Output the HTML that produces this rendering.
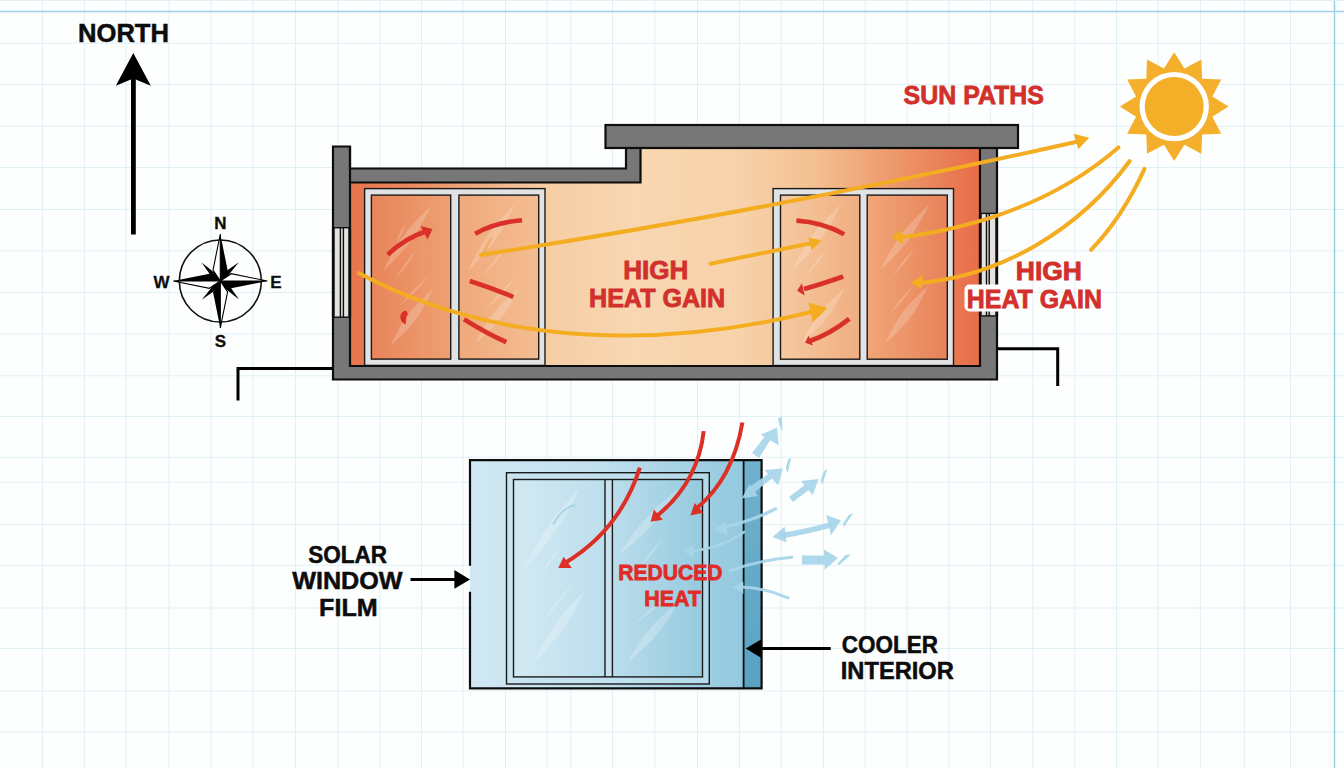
<!DOCTYPE html>
<html><head><meta charset="utf-8">
<style>
html,body{margin:0;padding:0;background:#fdfefe;width:1344px;height:768px;overflow:hidden}
svg{display:block}
text{font-family:"Liberation Sans",sans-serif;font-weight:bold}
</style></head><body>
<svg width="1344" height="768" viewBox="0 0 1344 768">
<defs>
<linearGradient id="gInt" x1="350" y1="0" x2="980" y2="0" gradientUnits="userSpaceOnUse">
<stop offset="0" stop-color="#e8744b"/>
<stop offset="0.1" stop-color="#eb8a5e"/>
<stop offset="0.3" stop-color="#f6cca2"/>
<stop offset="0.45" stop-color="#f8d7b2"/>
<stop offset="0.62" stop-color="#f7d2aa"/>
<stop offset="0.74" stop-color="#f3bf90"/>
<stop offset="0.86" stop-color="#ed9a6c"/>
<stop offset="1" stop-color="#e86c48"/>
</linearGradient>
<linearGradient id="pLL" x1="371" y1="0" x2="451" y2="0" gradientUnits="userSpaceOnUse">
<stop offset="0" stop-color="#e9845a"/><stop offset="1" stop-color="#eea072"/>
</linearGradient>
<linearGradient id="pLR" x1="459" y1="0" x2="539" y2="0" gradientUnits="userSpaceOnUse">
<stop offset="0" stop-color="#f0a97a"/><stop offset="1" stop-color="#f4bd92"/>
</linearGradient>
<linearGradient id="pRL" x1="780" y1="0" x2="860" y2="0" gradientUnits="userSpaceOnUse">
<stop offset="0" stop-color="#f6c9a0"/><stop offset="1" stop-color="#f0ae80"/>
</linearGradient>
<linearGradient id="pRR" x1="867" y1="0" x2="947" y2="0" gradientUnits="userSpaceOnUse">
<stop offset="0" stop-color="#f0a677"/><stop offset="1" stop-color="#e8825a"/>
</linearGradient>
<linearGradient id="gFilm" x1="470" y1="0" x2="745" y2="0" gradientUnits="userSpaceOnUse">
<stop offset="0" stop-color="#d0e8f3"/>
<stop offset="0.45" stop-color="#c2e1ee"/>
<stop offset="1" stop-color="#92c8de"/>
</linearGradient>
<linearGradient id="gPane" x1="513" y1="0" x2="703" y2="0" gradientUnits="userSpaceOnUse">
<stop offset="0" stop-color="#d2e9f3"/>
<stop offset="0.5" stop-color="#bcdeec"/>
<stop offset="1" stop-color="#96cadf"/>
</linearGradient>
<linearGradient id="gStrip" x1="744" y1="460" x2="762" y2="689" gradientUnits="userSpaceOnUse">
<stop offset="0" stop-color="#70b2ce"/>
<stop offset="1" stop-color="#5aa2c2"/>
</linearGradient>
</defs>

<!-- grid -->
<path d="M42.4 0V768M84.4 0V768M126 0V768M169 0V768M211 0V768M253 0V768M295.5 0V768M338 0V768M380 0V768M421.5 0V768M463 0V768M505.5 0V768M547 0V768M570.8 0V768M612.5 0V768M654.8 0V768M697.5 0V768M739.4 0V768M781.2 0V768M823.4 0V768M865.2 0V768M907.2 0V768M948.7 0V768M990.6 0V768M1032.8 0V768M1074.7 0V768M1116.5 0V768M1158.2 0V768M1200.4 0V768M1244.4 0V768M1290.5 0V768M0 43.25H1344M0 84.5H1344M0 126.25H1344M0 167.5H1344M0 209.5H1344M0 250.75H1344M0 292.5H1344M0 334H1344M0 375.75H1344M0 416.5H1344M0 457.25H1344M0 482.25H1344M0 524.5H1344M0 565.25H1344M0 608H1344M0 648.5H1344M0 691H1344M0 731.75H1344" stroke="#e0f0f7" stroke-width="1" fill="none"/>
<path d="M0 11.6H1344" stroke="#a3cfea" stroke-width="1.5" fill="none"/>
<path d="M1334.5 0V768" stroke="#94cfe6" stroke-width="1.4" fill="none"/>
<path d="M0 0.5H1344" stroke="#e3f0f8" stroke-width="1"/>

<!-- NORTH -->
<text x="78.0" y="42.0" font-size="25" fill="#0c0c0c" stroke="#0c0c0c" stroke-width="0.5" textLength="91.0" lengthAdjust="spacingAndGlyphs">NORTH</text>
<path d="M131 234.5V70H135.8V234.5Z" fill="#000"/>
<path d="M133.3 53L150.8 85.8L133.3 78.6L115.8 85.8Z" fill="#000"/>

<!-- compass -->
<g transform="translate(220.3 281)">
<circle r="41" fill="none" stroke="#111" stroke-width="1.6"/>
<path d="M3.94 -8.56L18.50 -18.70L6.67 -3.88L0.00 0.00ZM8.56 3.94L18.70 18.50L3.88 6.67L0.00 0.00ZM-3.94 8.56L-18.50 18.70L-6.67 3.88L0.00 0.00ZM-8.56 -3.94L-18.70 -18.50L-3.88 -6.67L0.00 0.00Z" fill="#000"/>
<path d="M0 -47L-7.3 -10.9L0 0ZM47 0L10.9 -7.3L0 0ZM0 47L7.3 10.9L0 0ZM-47 0L-10.9 7.3L0 0Z" fill="#fff" stroke="#000" stroke-width="1.1" stroke-linejoin="miter"/>
<path d="M0 -47L7.3 -10.9L0 0ZM47 0L10.9 7.3L0 0ZM0 47L-7.3 10.9L0 0ZM-47 0L-10.9 -7.3L0 0Z" fill="#000"/>
</g>
<text x="220.5" y="228.8" font-size="17" fill="#0c0c0c" stroke="#0c0c0c" stroke-width="0.3" text-anchor="middle">N</text>
<text x="220.5" y="346.5" font-size="17" fill="#0c0c0c" stroke="#0c0c0c" stroke-width="0.3" text-anchor="middle">S</text>
<text x="161.5" y="288" font-size="17" fill="#0c0c0c" stroke="#0c0c0c" stroke-width="0.3" text-anchor="middle">W</text>
<text x="276" y="288" font-size="17" fill="#0c0c0c" stroke="#0c0c0c" stroke-width="0.3" text-anchor="middle">E</text>

<!-- BUILDING -->
<path d="M350 182.5H640.5V148H980V366H350Z" fill="url(#gInt)"/>
<g stroke="#1a1a1a" stroke-width="1.4">
<rect x="364.6" y="188.6" width="180.4" height="176.8" fill="#e0e2e4"/>
<rect x="371.4" y="195.1" width="79.3" height="164" fill="url(#pLL)"/>
<rect x="458.9" y="195.1" width="79.8" height="164" fill="url(#pLR)"/>
<rect x="773.1" y="188.6" width="180.4" height="176.9" fill="#e0e2e4"/>
<rect x="780.5" y="195.1" width="79.3" height="164.1" fill="url(#pRL)"/>
<rect x="867.2" y="195.1" width="80.1" height="164.1" fill="url(#pRR)"/>
</g>
<!-- glass streaks -->
<g fill="#fff" fill-opacity="0.2">
<path d="M383.5 270.3L388.5 265.7L393.2 260.9L397.9 256.0L402.5 251.1L407.0 246.1L411.0 240.7L414.9 235.4L418.4 229.6L421.8 223.8L425.0 217.9L428.3 211.9L431.2 205.8L431.2 205.8L426.2 210.4L421.5 215.2L416.8 220.1L412.2 225.0L407.7 230.0L403.7 235.4L399.8 240.7L396.3 246.5L392.9 252.3L389.7 258.2L386.4 264.2L383.5 270.3Z"/>
<path d="M390.4 345.5L395.0 341.5L399.3 337.3L403.6 333.1L407.8 328.8L411.9 324.5L415.5 319.7L419.1 315.0L422.2 309.8L425.1 304.6L428.0 299.3L430.8 294.0L433.4 288.5L433.4 288.5L428.8 292.5L424.5 296.7L420.2 300.9L416.0 305.2L411.9 309.5L408.3 314.3L404.7 319.0L401.6 324.2L398.7 329.4L395.8 334.7L393.0 340.0L390.4 345.5Z"/>
<path d="M467.7 271.3L472.7 266.5L477.4 261.5L482.0 256.4L486.6 251.3L491.0 246.2L495.0 240.6L498.9 235.1L502.3 229.1L505.6 223.1L508.9 217.1L512.0 211.0L514.9 204.7L514.9 204.7L509.9 209.5L505.2 214.5L500.6 219.6L496.0 224.7L491.6 229.8L487.6 235.4L483.7 240.9L480.3 246.9L477.0 252.9L473.7 258.9L470.6 265.0L467.7 271.3Z"/>
<path d="M475.2 343.2L479.9 339.4L484.3 335.5L488.6 331.4L492.9 327.4L497.0 323.2L500.7 318.6L504.4 314.1L507.6 309.1L510.6 304.0L513.6 298.9L516.5 293.8L519.2 288.4L519.2 288.4L514.5 292.2L510.1 296.1L505.8 300.2L501.5 304.2L497.4 308.4L493.7 313.0L490.0 317.5L486.8 322.5L483.8 327.6L480.8 332.7L477.9 337.8L475.2 343.2Z"/>
<path d="M792.1 270.0L797.2 265.3L802.0 260.5L806.8 255.6L811.5 250.6L816.1 245.5L820.1 240.1L824.2 234.7L827.8 228.9L831.2 223.0L834.6 217.0L838.0 211.0L841.0 204.8L841.0 204.8L835.9 209.5L831.1 214.3L826.3 219.2L821.6 224.2L817.0 229.3L812.9 234.7L808.9 240.1L805.3 245.9L801.9 251.8L798.5 257.8L795.1 263.8L792.1 270.0Z"/>
<path d="M801.9 342.8L806.4 339.1L810.7 335.1L814.9 331.1L819.1 327.1L823.1 322.9L826.6 318.4L830.2 313.9L833.2 309.0L836.1 304.0L839.0 298.9L841.8 293.8L844.3 288.5L844.3 288.5L839.8 292.2L835.5 296.2L831.3 300.2L827.1 304.2L823.1 308.4L819.6 312.9L816.0 317.4L813.0 322.3L810.1 327.3L807.2 332.4L804.4 337.5L801.9 342.8Z"/>
<path d="M880.2 270.0L885.3 265.3L890.1 260.5L894.9 255.6L899.6 250.6L904.1 245.5L908.2 240.1L912.3 234.7L915.8 228.9L919.3 223.0L922.7 217.0L926.0 211.0L929.0 204.8L929.0 204.8L923.9 209.5L919.1 214.3L914.3 219.2L909.6 224.2L905.1 229.3L901.0 234.7L896.9 240.1L893.4 245.9L889.9 251.8L886.5 257.8L883.2 263.8L880.2 270.0Z"/>
<path d="M885.6 342.8L890.2 338.9L894.5 334.7L898.7 330.5L902.8 326.3L906.9 322.0L910.4 317.3L913.9 312.5L917.0 307.5L919.9 302.3L922.7 297.1L925.5 291.8L928.0 286.3L928.0 286.3L923.4 290.2L919.1 294.4L914.9 298.6L910.8 302.8L906.7 307.1L903.2 311.8L899.7 316.6L896.6 321.6L893.7 326.8L890.9 332.0L888.1 337.3L885.6 342.8Z"/>
<path d="M394.7 280.0L396.8 277.6L398.9 275.1L400.9 272.6L403.0 270.2L405.0 267.6L406.8 265.0L408.7 262.4L410.5 259.8L412.2 257.0L413.9 254.3L415.6 251.6L417.2 248.8L417.2 248.8L415.1 251.2L413.0 253.7L411.0 256.2L408.9 258.6L406.9 261.2L405.1 263.8L403.2 266.4L401.4 269.0L399.7 271.8L398.0 274.5L396.3 277.2L394.7 280.0Z"/>
<path d="M396.8 242.3L397.8 240.9L398.7 239.5L399.6 238.0L400.5 236.6L401.4 235.1L402.1 233.6L402.8 232.1L403.4 230.5L403.9 228.9L404.5 227.3L405.0 225.7L405.4 224.0L405.4 224.0L404.4 225.4L403.5 226.8L402.6 228.3L401.7 229.7L400.8 231.2L400.1 232.7L399.4 234.2L398.8 235.8L398.3 237.4L397.7 239.0L397.2 240.6L396.8 242.3Z"/>
<path d="M399.0 306.8L401.8 304.3L404.6 301.8L407.3 299.3L410.0 296.7L412.7 294.1L415.3 291.5L417.9 288.8L420.4 286.0L422.8 283.2L425.2 280.3L427.6 277.5L430.0 274.6L430.0 274.6L427.2 277.1L424.4 279.6L421.7 282.1L419.0 284.7L416.3 287.3L413.7 289.9L411.1 292.6L408.6 295.4L406.2 298.2L403.8 301.1L401.4 303.9L399.0 306.8Z"/>
<path d="M481.6 277.7L484.1 275.1L486.6 272.4L489.0 269.8L491.5 267.1L493.9 264.4L496.2 261.5L498.4 258.7L500.6 255.8L502.7 252.9L504.9 250.0L507.0 247.0L509.0 244.0L509.0 244.0L506.5 246.6L504.0 249.3L501.6 251.9L499.1 254.6L496.7 257.3L494.4 260.2L492.2 263.0L490.0 265.9L487.9 268.8L485.7 271.7L483.6 274.7L481.6 277.7Z"/>
<path d="M483.8 312.0L486.9 309.1L489.9 306.1L493.0 303.1L496.0 300.1L498.9 297.1L501.8 294.0L504.7 290.9L507.4 287.6L510.2 284.4L512.9 281.1L515.6 277.8L518.2 274.5L518.2 274.5L515.1 277.4L512.1 280.4L509.0 283.4L506.0 286.4L503.1 289.4L500.2 292.5L497.3 295.6L494.6 298.9L491.8 302.1L489.1 305.4L486.4 308.7L483.8 312.0Z"/>
<path d="M806.3 275.4L808.3 273.4L810.2 271.4L812.1 269.3L813.9 267.3L815.8 265.2L817.5 263.0L819.2 260.9L820.8 258.6L822.4 256.3L824.0 254.0L825.5 251.7L827.0 249.3L827.0 249.3L825.0 251.3L823.1 253.3L821.2 255.4L819.4 257.4L817.5 259.5L815.8 261.7L814.1 263.8L812.5 266.1L810.9 268.4L809.3 270.7L807.8 273.0L806.3 275.4Z"/>
<path d="M893.2 275.4L895.2 273.4L897.1 271.4L899.0 269.3L900.8 267.3L902.7 265.2L904.4 263.0L906.1 260.9L907.7 258.6L909.3 256.3L910.9 254.0L912.4 251.7L913.9 249.3L913.9 249.3L911.9 251.3L910.0 253.3L908.1 255.4L906.3 257.4L904.4 259.5L902.7 261.7L901.0 263.8L899.4 266.1L897.8 268.4L896.2 270.7L894.7 273.0L893.2 275.4Z"/>
<path d="M891.0 312.4L893.1 310.4L895.1 308.4L897.0 306.4L899.0 304.3L900.9 302.2L902.7 300.1L904.6 297.9L906.3 295.6L907.9 293.3L909.6 291.0L911.2 288.7L912.8 286.3L912.8 286.3L910.7 288.3L908.7 290.3L906.8 292.3L904.8 294.4L902.9 296.5L901.1 298.6L899.2 300.8L897.5 303.1L895.9 305.4L894.2 307.7L892.6 310.0L891.0 312.4Z"/>
</g>
<!-- walls -->
<path d="M333 146.5H350V168.5H626V148H997V379.5H333Z M350 182.5V366H980V148H640.5V182.5Z" fill="#777" stroke="#0d0d0d" stroke-width="2.2" stroke-linejoin="miter" fill-rule="evenodd"/>
<rect x="605.5" y="125" width="412.5" height="23" fill="#777" stroke="#0d0d0d" stroke-width="2.2"/>
<path d="M350 146.5V183" stroke="#0d0d0d" stroke-width="2.2"/>
<g stroke="#0d0d0d" stroke-width="1.4">
<rect x="334" y="227.7" width="15" height="89.5" fill="#e4e2df"/>
<path d="M340.4 227.7V317.2M343.4 227.7V317.2" fill="none"/>
<rect x="981" y="213.4" width="15" height="102.5" fill="#e4e2df"/>
<path d="M986.5 213.4V315.9M989.2 213.4V315.9" fill="none"/>
</g>
<path d="M333 227.7V317.2M350 227.7V317.2M980 213.4V315.9M997 213.4V315.9" stroke="#0d0d0d" stroke-width="2.2"/>
<path d="M333 368.4H238V400.5M997 348.7H1057.7V386" fill="none" stroke="#000" stroke-width="3"/>

<!-- red arrows building -->
<g fill="none" stroke="#d9302a" stroke-width="4.6" stroke-linecap="butt">
<path d="M387.7 254.7Q405 238 427 231"/>
<path d="M475.2 233.7Q496 222 522 220.3"/>
<path d="M469.8 281Q492 288 513.4 297"/>
<path d="M464 319.2Q486 333 506.3 342.2"/>
<path d="M796.4 220.6Q822 222 844.2 234.2"/>
<path d="M843.2 276.5Q822 284 804 289"/>
<path d="M849.3 318.9Q830 334 810 341"/>
</g>
<g fill="#d9302a">
<path d="M432.5 229L420.5 226L427.5 239.5Z"/>
<path d="M797.1 290.7L801.9 283.2L804.6 295.5Z"/>
<path d="M805.2 342.8L808.4 335.4L813 345.5Z"/>
<path d="M406 310.5C399 311.5 398 321 405.5 324.5C406.5 321 405.5 317 408 314Z"/>
</g>

<path d="M481 254L490 238L493 236L486 252Z" fill="#ee9a40" fill-opacity="0.55"/>
<!-- yellow paths -->
<g fill="none" stroke="#f4ad20" stroke-width="4" stroke-linecap="round">
<path d="M480.7 255Q780.6 208.4 1078 141.5"/>
<path d="M359.1 273.3C498.2 347.4 665.2 349.0 815 311"/>
<path d="M710.5 263.7L812 243"/>
<path d="M1118.4 147.4C1057.5 200.4 978.6 227.4 900 237.5"/>
<path d="M1129.7 161C1080.2 228.6 1001.6 276.5 918 283"/>
<path d="M1144.5 168.9Q1122 218 1091 249.9"/>
</g>
<g fill="#f4ad20">
<path d="M1089.2 137.7L1073.7 133.7L1078.3 149.2Z"/>
<path d="M827.6 308L808.4 302.6L812.8 322.2Z"/>
<path d="M821.5 240.2L808.4 237.4L811.7 250.4Z"/>
<path d="M891.4 237.5L901.5 230.1L903.5 244.2Z"/>
<path d="M910.2 283L922.9 275L921.6 289Z"/>
</g>

<!-- HIGH HEAT GAIN -->
<g fill="#d2302c" stroke="#d2302c" stroke-width="0.8">
<text x="623.2" y="279.0" font-size="25" textLength="65.2" lengthAdjust="spacingAndGlyphs">HIGH</text>
<text x="589.0" y="306.6" font-size="25" textLength="136.2" lengthAdjust="spacingAndGlyphs">HEAT GAIN</text>
</g>
<rect x="964.5" y="284.5" width="40" height="27" rx="5" fill="#fff"/>
<g fill="#d2302c" stroke="#d2302c" stroke-width="0.8">
<text x="1015.8" y="279.8" font-size="25" textLength="66.2" lengthAdjust="spacingAndGlyphs">HIGH</text>
<text x="966.8" y="307.8" font-size="25" textLength="135.2" lengthAdjust="spacingAndGlyphs">HEAT GAIN</text>
<text x="903.6" y="103.6" font-size="25" textLength="140.4" lengthAdjust="spacingAndGlyphs">SUN PATHS</text>
</g>

<!-- sun -->
<g transform="translate(1174.2 106.6)">
<path fill="#f4af2c" d="M0.00 -54.30L10.22 -38.15L27.15 -47.03L27.93 -27.93L47.03 -27.15L38.15 -10.22L54.30 0.00L38.15 10.22L47.03 27.15L27.93 27.93L27.15 47.03L10.22 38.15L0.00 54.30L-10.22 38.15L-27.15 47.03L-27.93 27.93L-47.03 27.15L-38.15 10.22L-54.30 0.00L-38.15 -10.22L-47.03 -27.15L-27.93 -27.93L-27.15 -47.03L-10.22 -38.15Z"/>
<circle r="34.7" fill="#fff"/>
<circle r="29.5" fill="#f4af28"/>
</g>

<!-- FILM -->
<rect x="470" y="460.2" width="273.6" height="228.3" fill="url(#gFilm)"/>
<rect x="743.6" y="460.2" width="18" height="228.3" fill="url(#gStrip)"/>
<rect x="506.5" y="472.7" width="202.8" height="211.3" fill="#c4e2ee" fill-opacity="0.6"/>
<rect x="513.5" y="479.5" width="189" height="197.4" fill="url(#gPane)"/>
<rect x="605" y="479.5" width="7.4" height="197.4" fill="#c8e4f0"/>
<!-- film streaks -->
<g fill="#fff" fill-opacity="0.24">
<path d="M524.0 568.6L529.8 562.5L535.3 556.3L540.7 550.0L546.0 543.7L551.2 537.2L555.9 530.5L560.7 523.7L564.9 516.6L568.9 509.3L572.9 502.0L576.8 494.7L580.5 487.2L580.5 487.2L574.7 493.3L569.2 499.5L563.8 505.8L558.5 512.1L553.3 518.6L548.6 525.3L543.8 532.1L539.6 539.2L535.6 546.5L531.6 553.8L527.7 561.1L524.0 568.6Z"/>
<path d="M533.6 662.4L538.9 657.2L543.9 651.7L548.9 646.3L553.8 640.8L558.6 635.1L562.8 629.2L567.1 623.2L570.8 616.9L574.4 610.4L578.0 603.9L581.5 597.4L584.7 590.7L584.7 590.7L579.4 595.9L574.4 601.4L569.4 606.8L564.5 612.3L559.7 618.0L555.5 623.9L551.2 629.9L547.5 636.2L543.9 642.7L540.3 649.2L536.8 655.7L533.6 662.4Z"/>
<path d="M619.2 554.8L625.1 550.1L630.7 545.3L636.3 540.3L641.9 535.3L647.3 530.2L652.2 524.7L657.1 519.2L661.6 513.3L666.0 507.2L670.3 501.1L674.5 495.0L678.5 488.6L678.5 488.6L672.6 493.3L667.0 498.1L661.4 503.1L655.8 508.1L650.4 513.2L645.5 518.7L640.6 524.2L636.1 530.1L631.7 536.2L627.4 542.3L623.2 548.4L619.2 554.8Z"/>
<path d="M627.4 662.4L632.6 658.2L637.6 653.7L642.5 649.2L647.4 644.7L652.1 640.0L656.4 634.9L660.7 629.9L664.4 624.4L668.1 618.9L671.7 613.3L675.2 607.6L678.5 601.7L678.5 601.7L673.3 605.9L668.3 610.4L663.4 614.9L658.5 619.4L653.8 624.1L649.5 629.2L645.2 634.2L641.5 639.7L637.8 645.2L634.2 650.8L630.7 656.5L627.4 662.4Z"/>
<path d="M539.0 577.0L541.2 574.4L543.4 571.8L545.5 569.1L547.6 566.5L549.7 563.8L551.7 561.0L553.7 558.3L555.5 555.4L557.3 552.5L559.1 549.6L560.9 546.7L562.6 543.8L562.6 543.8L560.4 546.4L558.2 549.0L556.1 551.7L554.0 554.3L551.9 557.0L549.9 559.8L547.9 562.5L546.1 565.4L544.3 568.3L542.5 571.2L540.7 574.1L539.0 577.0Z"/>
<path d="M540.5 623.8L543.6 620.4L546.7 617.0L549.7 613.6L552.7 610.1L555.7 606.7L558.6 603.1L561.5 599.5L564.2 595.9L567.0 592.2L569.7 588.5L572.4 584.8L575.0 581.0L575.0 581.0L571.9 584.4L568.8 587.8L565.8 591.2L562.8 594.7L559.8 598.1L556.9 601.7L554.0 605.3L551.3 608.9L548.5 612.6L545.8 616.3L543.1 620.0L540.5 623.8Z"/>
<path d="M638.5 568.6L640.7 566.4L642.8 564.1L645.0 561.8L647.1 559.5L649.1 557.2L651.1 554.8L653.1 552.4L654.9 549.9L656.7 547.3L658.5 544.8L660.3 542.2L662.0 539.6L662.0 539.6L659.8 541.8L657.7 544.1L655.5 546.4L653.4 548.7L651.4 551.0L649.4 553.4L647.4 555.8L645.6 558.3L643.8 560.9L642.0 563.4L640.2 566.0L638.5 568.6Z"/>
<path d="M633.0 625.2L636.4 622.8L639.8 620.3L643.1 617.8L646.5 615.3L649.8 612.8L653.0 610.1L656.2 607.5L659.3 604.7L662.4 601.9L665.5 599.1L668.6 596.3L671.6 593.4L671.6 593.4L668.2 595.8L664.8 598.3L661.5 600.8L658.1 603.3L654.8 605.8L651.6 608.5L648.4 611.1L645.3 613.9L642.2 616.7L639.1 619.5L636.0 622.3L633.0 625.2Z"/>
</g>
<path d="M553 524.4Q562 508 575 505" fill="none" stroke="#8cc6e0" stroke-width="2" stroke-opacity="0.6"/>
<path d="M470 565.7V460.2H761.6V688.4H470V591.8" fill="none" stroke="#0d0d0d" stroke-width="2.2"/>
<path d="M743.6 460.2V688.4" stroke="#0d0d0d" stroke-width="1.8"/>
<g fill="none" stroke="#1a1a1a" stroke-width="1.4">
<rect x="506.5" y="472.7" width="202.8" height="211.3"/>
<rect x="513.5" y="479.5" width="189" height="197.4"/>
<path d="M605 479.5V676.9M612.4 479.5V676.9"/>
</g>

<!-- blue arrows -->
<g fill="#a8d5ea" stroke="none" opacity="0.92">
<path d="M752 453L766 435L771 439L759 458Z"/>
<path d="M776.9 427.6L760.6 434.8L778.8 445.2Z"/>
<path d="M778 418.5L781.8 416.5L782.6 431.5L779.8 426Z"/>
<path d="M748 488L771 472L774 477L752 494Z"/>
<path d="M782.75 468.6L764.5 469.9L778.2 485.5Z"/>
<path d="M741.7 498.6L749.5 484.2L758 496Z"/>
<path d="M788 459.5L791.3 457.8L787.5 473.2L785.8 468Z"/>
<path d="M789 497L806 484L810 489L793 502Z"/>
<path d="M818.6 479L801 481L812.7 495.3Z"/>
<path d="M824 471L827.3 469.3L822 485L820.8 480Z"/>
<path d="M713.75 529.8L725.5 521.25L727.8 535.3Z"/>
<path d="M682.5 550.9L694.2 543.9L693.4 558Z"/>
<path d="M772.3 536.9L784.8 526.7L786.4 542.3Z"/>
<path d="M841 520.5L826.25 515L831 535.3Z"/>
<path d="M848.8 515L853.2 513.3L844 527L843 523.5Z"/>
<path d="M802 555.5H825V564.5H802Z"/>
<path d="M838 558L823.9 549.4L824.7 569.7Z"/>
<path d="M845.5 555L851.2 554.3L839 565.2L837.2 564Z"/>
<path d="M732.5 586.9L743.4 581.4L743.4 593.9Z"/>
</g>
<g fill="none" stroke="#a8d5ea" stroke-linecap="round" opacity="0.92">
<path d="M775.5 508.75Q750 522 722 527.5" stroke-width="3.2"/>
<path d="M744.2 531.9Q722 548 692 551" stroke-width="2.6"/>
<path d="M782.5 535.5Q805 532 830 525.2" stroke-width="5.5"/>
<path d="M730.2 570.5Q760 560 791.9 557.2" stroke-width="3"/>
<path d="M788 597.8Q765 588 742 587" stroke-width="3"/>
</g>

<!-- red arrows film -->
<g fill="none" stroke="#dc2f26" stroke-width="4">
<path d="M703.7 431.1Q698 482 658 515"/>
<path d="M742.4 422.5Q733 478 697 508"/>
<path d="M639.9 467.6Q620 530 565 563"/>
</g>
<g fill="#dc2f26">
<path d="M650.6 521.8L653.9 509.5L662.9 519.8Z"/>
<path d="M690.4 515.5L694.7 503L703.3 512.7Z"/>
<path d="M558.3 568L563.6 556.8L571.8 568Z"/>
</g>

<g fill="#e02c28" stroke="#e02c28" stroke-width="0.8">
<text x="618.2" y="579.8" font-size="22" textLength="104.4" lengthAdjust="spacingAndGlyphs">REDUCED</text>
<text x="644.2" y="605.8" font-size="22" textLength="56.8" lengthAdjust="spacingAndGlyphs">HEAT</text>
</g>

<!-- labels -->
<g fill="#0c0c0c" stroke="#0c0c0c" stroke-width="0.5">
<text x="308.2" y="563.0" font-size="24" textLength="78.8" lengthAdjust="spacingAndGlyphs">SOLAR</text>
<text x="292.2" y="589.4" font-size="24" textLength="110.4" lengthAdjust="spacingAndGlyphs">WINDOW</text>
<text x="319.1" y="615.6" font-size="24" textLength="58.5" lengthAdjust="spacingAndGlyphs">FILM</text>
<text x="841.8" y="652.8" font-size="24" textLength="96.2" lengthAdjust="spacingAndGlyphs">COOLER</text>
<text x="840.8" y="679.2" font-size="24" textLength="113.0" lengthAdjust="spacingAndGlyphs">INTERIOR</text>
</g>
<path d="M410.5 579.4H456" stroke="#000" stroke-width="3"/>
<path d="M470 579.4L454.4 569.9V588.8Z" fill="#000"/>
<path d="M760 648.6H830.7" stroke="#000" stroke-width="3"/>
<path d="M745.7 648.6L761.4 639.3V658Z" fill="#000"/>

</svg>
</body></html>
